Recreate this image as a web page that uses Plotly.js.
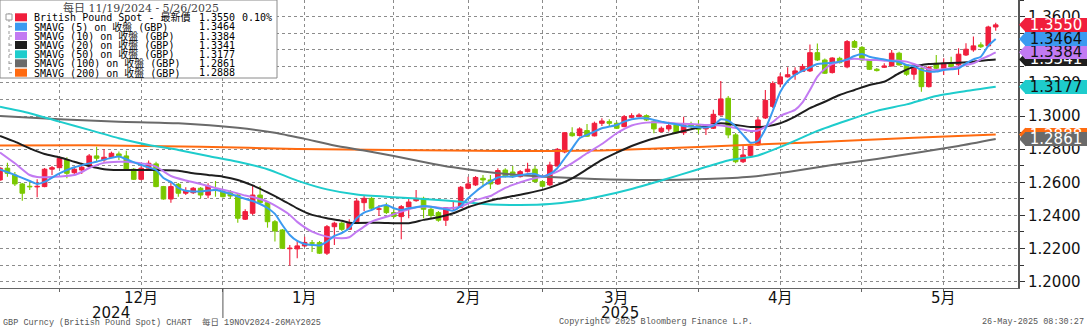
<!DOCTYPE html>
<html><head><meta charset="utf-8">
<script src="https://cdn.plot.ly/plotly-3.0.1.min.js"></script>
<style>html,body{margin:0;padding:0;background:#fff;overflow:hidden}#chart{width:1089px;height:328px}</style>
</head><body><div id="chart"></div>
<script>
// ---- data (GBP spot daily, 19 Nov 2024 - 26 May 2025, index = trading day) ----
const openP = [1.2614,1.2685,1.2644,1.2590,1.2576,1.2572,1.2574,1.2679,1.2688,1.2735,1.2658,1.2674,1.2698,1.2759,1.2735,1.2751,1.2771,1.2759,1.2679,1.2618,1.2685,1.2711,1.2574,1.2499,1.2588,1.2534,1.2537,1.2564,1.2523,1.2556,1.2543,1.2537,1.2523,1.2377,1.2413,1.2523,1.2477,1.2362,1.2312,1.2199,1.2198,1.2216,1.2235,1.2236,1.2172,1.2332,1.2353,1.2316,1.2362,1.2477,1.2503,1.2437,1.2457,1.2417,1.2393,1.2451,1.2489,1.2503,1.2437,1.2417,1.2371,1.2446,1.2449,1.2564,1.2584,1.2624,1.2614,1.2590,1.2674,1.2662,1.2634,1.2664,1.2679,1.2604,1.2584,1.2698,1.2783,1.2896,1.2882,1.2912,1.2880,1.2956,1.2966,1.2956,1.2936,1.2992,1.2996,1.3002,1.2966,1.2906,1.2922,1.2946,1.2899,1.2950,1.2946,1.2922,1.2926,1.3006,1.3107,1.2886,1.2724,1.2762,1.2825,1.2988,1.3058,1.3193,1.3236,1.3251,1.3269,1.3272,1.3382,1.3338,1.3262,1.3348,1.3296,1.3449,1.3414,1.3338,1.3282,1.3294,1.3302,1.3379,1.3308,1.3252,1.3288,1.3177,1.3318,1.3288,1.3318,1.3308,1.3368,1.3399,1.3429,1.3423,1.3537];
const highP = [1.2692,1.2718,1.2662,1.2596,1.2604,1.2618,1.2686,1.2698,1.2751,1.2751,1.2691,1.2718,1.2771,1.2815,1.2801,1.2785,1.2785,1.2791,1.2686,1.2704,1.2731,1.2724,1.2578,1.2598,1.2596,1.2570,1.2572,1.2572,1.2594,1.2608,1.2554,1.2554,1.2535,1.2437,1.2578,1.2578,1.2487,1.2373,1.2318,1.2222,1.2252,1.2272,1.2252,1.2246,1.2342,1.2362,1.2362,1.2377,1.2503,1.2523,1.2511,1.2463,1.2477,1.2443,1.2463,1.2503,1.2554,1.2513,1.2457,1.2427,1.2449,1.2483,1.2578,1.2634,1.2638,1.2644,1.2644,1.2685,1.2685,1.2698,1.2674,1.2718,1.2698,1.2611,1.2724,1.2807,1.2903,1.2932,1.2932,1.2952,1.2966,1.2986,1.2980,1.2966,1.3006,1.3017,1.3017,1.3010,1.2976,1.2936,1.2966,1.2956,1.2996,1.2966,1.2976,1.2946,1.3037,1.3211,1.3121,1.2898,1.2819,1.2822,1.2994,1.3157,1.3210,1.3258,1.3294,1.3294,1.3314,1.3432,1.3438,1.3347,1.3355,1.3358,1.3459,1.3459,1.3423,1.3344,1.3290,1.3318,1.3399,1.3387,1.3314,1.3314,1.3296,1.3302,1.3368,1.3348,1.3358,1.3409,1.3439,1.3479,1.3445,1.3545,1.3563];
const lowP = [1.2608,1.2634,1.2578,1.2489,1.2554,1.2510,1.2570,1.2644,1.2686,1.2624,1.2644,1.2650,1.2692,1.2724,1.2724,1.2747,1.2735,1.2675,1.2614,1.2612,1.2679,1.2570,1.2495,1.2477,1.2513,1.2523,1.2529,1.2503,1.2503,1.2513,1.2508,1.2499,1.2356,1.2373,1.2403,1.2469,1.2326,1.2242,1.2198,1.2097,1.2141,1.2210,1.2180,1.2167,1.2161,1.2222,1.2306,1.2312,1.2358,1.2427,1.2439,1.2397,1.2409,1.2385,1.2256,1.2383,1.2483,1.2383,1.2377,1.2362,1.2336,1.2427,1.2445,1.2558,1.2578,1.2570,1.2560,1.2584,1.2629,1.2626,1.2629,1.2659,1.2599,1.2572,1.2578,1.2695,1.2775,1.2875,1.2877,1.2874,1.2877,1.2940,1.2940,1.2922,1.2932,1.2986,1.2992,1.2970,1.2896,1.2901,1.2906,1.2894,1.2886,1.2928,1.2892,1.2886,1.2922,1.3003,1.2866,1.2715,1.2717,1.2759,1.2819,1.2982,1.3049,1.3174,1.3232,1.3218,1.3266,1.3266,1.3332,1.3254,1.3257,1.3317,1.3288,1.3411,1.3334,1.3278,1.3269,1.3290,1.3299,1.3305,1.3242,1.3218,1.3147,1.3172,1.3284,1.3248,1.3290,1.3248,1.3362,1.3388,1.3411,1.3417,1.3515];
const closeP = [1.2685,1.2654,1.2590,1.2534,1.2572,1.2576,1.2679,1.2688,1.2745,1.2654,1.2679,1.2691,1.2759,1.2745,1.2751,1.2775,1.2759,1.2679,1.2618,1.2685,1.2715,1.2574,1.2499,1.2574,1.2534,1.2548,1.2564,1.2523,1.2578,1.2552,1.2513,1.2517,1.2383,1.2423,1.2523,1.2477,1.2362,1.2306,1.2202,1.2203,1.2216,1.2237,1.2232,1.2172,1.2332,1.2353,1.2316,1.2356,1.2487,1.2503,1.2443,1.2440,1.2417,1.2394,1.2453,1.2481,1.2503,1.2437,1.2400,1.2371,1.2447,1.2448,1.2570,1.2590,1.2629,1.2614,1.2590,1.2671,1.2634,1.2634,1.2664,1.2679,1.2604,1.2576,1.2704,1.2799,1.2899,1.2881,1.2922,1.2878,1.2956,1.2970,1.2956,1.2926,1.2996,1.3002,1.3006,1.2976,1.2922,1.2926,1.2942,1.2899,1.2946,1.2936,1.2920,1.2936,1.3010,1.3103,1.2886,1.2724,1.2765,1.2819,1.2976,1.3094,1.3196,1.3236,1.3249,1.3272,1.3299,1.3382,1.3338,1.3258,1.3350,1.3322,1.3449,1.3415,1.3338,1.3282,1.3274,1.3302,1.3379,1.3308,1.3252,1.3308,1.3177,1.3294,1.3288,1.3318,1.3298,1.3373,1.3403,1.3423,1.3418,1.3537,1.3550];

const sma5X = [0,2,4,5,6,8,10,13,16,17,19,21,22,23,24,25,27,29,31,32,34,35,36,37,38,39,40,41,42,43,44,45,46,47,48,49,50,51,52,53,54,55,56,57,58,59,60,61,62,63,64,65,66,67,68,69,71,72,73,74,75,76,77,78,79,80,81,82,83,84,85,86,87,88,89,90,91,92,93,94,95,96,97,98,99,100,101,102,103,104,105,106,107,108,109,110,111,112,113,114,115,116,117,118,119,120,121,122,123,124,125,126,127,128,129,130,131,132,133,134];
const sma5Y = [1.2677,1.2644,1.2608,1.2590,1.2602,1.2654,1.2691,1.2724,1.2755,1.2739,1.2704,1.2674,1.2626,1.2602,1.2566,1.2549,1.2545,1.2554,1.2530,1.2514,1.2487,1.2469,1.2445,1.2409,1.2342,1.2282,1.2246,1.2228,1.2222,1.2219,1.2242,1.2276,1.2294,1.2322,1.2383,1.2417,1.2433,1.2453,1.2463,1.2443,1.2433,1.2443,1.2449,1.2457,1.2453,1.2443,1.2437,1.2429,1.2457,1.2504,1.2543,1.2578,1.2604,1.2629,1.2635,1.2634,1.2650,1.2650,1.2634,1.2650,1.2685,1.2745,1.2805,1.2866,1.2886,1.2906,1.2926,1.2936,1.2946,1.2966,1.2980,1.2986,1.2986,1.2976,1.2966,1.2956,1.2950,1.2940,1.2936,1.2932,1.2930,1.2940,1.2980,1.2972,1.2936,1.2886,1.2839,1.2849,1.2922,1.3031,1.3145,1.3211,1.3248,1.3272,1.3293,1.3314,1.3318,1.3322,1.3328,1.3342,1.3362,1.3374,1.3358,1.3348,1.3341,1.3332,1.3326,1.3308,1.3300,1.3278,1.3268,1.3268,1.3278,1.3282,1.3288,1.3318,1.3342,1.3358,1.3423,1.3464];

const sma10X = [0,2,4,5,6,8,10,11,12,14,16,17,18,20,21,23,25,27,29,31,33,34,36,38,39,40,42,44,46,47,48,49,50,52,54,56,58,60,62,64,66,67,68,69,71,73,75,77,79,81,83,85,87,89,91,93,95,97,99,101,102,103,104,105,106,107,108,109,110,111,112,113,114,115,116,117,118,119,120,121,122,123,124,125,126,127,128,129,130,131,132,133,134];
const sma10Y = [1.2780,1.2715,1.2644,1.2632,1.2630,1.2635,1.2644,1.2662,1.2686,1.2717,1.2724,1.2724,1.2720,1.2708,1.2695,1.2638,1.2611,1.2590,1.2566,1.2545,1.2520,1.2511,1.2483,1.2433,1.2403,1.2361,1.2302,1.2272,1.2262,1.2268,1.2302,1.2332,1.2362,1.2392,1.2423,1.2449,1.2453,1.2443,1.2453,1.2493,1.2517,1.2542,1.2566,1.2584,1.2614,1.2634,1.2664,1.2715,1.2775,1.2831,1.2896,1.2943,1.2960,1.2961,1.2955,1.2952,1.2946,1.2943,1.2928,1.2910,1.2913,1.2934,1.2964,1.3000,1.3019,1.3037,1.3082,1.3157,1.3238,1.3284,1.3314,1.3328,1.3340,1.3346,1.3342,1.3338,1.3338,1.3334,1.3334,1.3334,1.3328,1.3314,1.3298,1.3282,1.3278,1.3282,1.3288,1.3298,1.3308,1.3318,1.3342,1.3362,1.3384];

const sma20X = [0,2,4,6,8,10,12,14,16,20,24,26,28,30,32,34,36,38,40,42,44,46,47,51,55,57,59,61,63,65,67,69,71,73,75,77,79,81,83,85,87,89,91,93,95,97,99,101,103,105,107,109,111,113,115,117,119,121,123,125,127,129,131,133,134];
const sma20Y = [1.2880,1.2845,1.2805,1.2771,1.2751,1.2724,1.2698,1.2679,1.2674,1.2674,1.2670,1.2654,1.2644,1.2634,1.2614,1.2581,1.2539,1.2493,1.2443,1.2403,1.2383,1.2368,1.2356,1.2356,1.2353,1.2373,1.2389,1.2413,1.2449,1.2477,1.2500,1.2517,1.2534,1.2554,1.2584,1.2624,1.2679,1.2735,1.2779,1.2819,1.2851,1.2876,1.2899,1.2920,1.2940,1.2956,1.2946,1.2934,1.2936,1.2956,1.2996,1.3047,1.3086,1.3127,1.3157,1.3187,1.3207,1.3258,1.3298,1.3314,1.3318,1.3322,1.3328,1.3338,1.3341];

const sma50X = [0,4,8,12,16,20,24,28,32,36,40,44,48,53,58,62,66,70,74,78,81,85,89,94,98,102,106,110,114,118,122,126,130,134];
const sma50Y = [1.3056,1.3017,1.2966,1.2916,1.2866,1.2825,1.2795,1.2759,1.2724,1.2679,1.2610,1.2557,1.2526,1.2510,1.2496,1.2483,1.2466,1.2463,1.2469,1.2490,1.2517,1.2560,1.2611,1.2679,1.2732,1.2762,1.2831,1.2910,1.2973,1.3031,1.3070,1.3121,1.3151,1.3177];

const sma100X = [0,8,16,24,32,37,41,45,49,53,57,61,65,69,74,80,88,95,101,106,112,118,124,129,134];
const sma100Y = [1.3000,1.2980,1.2966,1.2956,1.2929,1.2899,1.2862,1.2822,1.2792,1.2759,1.2723,1.2690,1.2665,1.2647,1.2632,1.2620,1.2614,1.2620,1.2634,1.2662,1.2704,1.2741,1.2783,1.2819,1.2861];

const sma200X = [0,12,27,40,53,68,81,94,108,123,134];
const sma200Y = [1.2822,1.2823,1.2815,1.2801,1.2795,1.2789,1.2792,1.2813,1.2839,1.2868,1.2888];

const gridIdx   = [8,19,30,41,53,63,73,83,94,105,116,127];
const gridText  = ['','12月','','1月','','2月','','3月','','4月','','5月'];
const yearText  = ['2024','2025'];
const yearIdx   = [15,83.5];
const yearBreak = 30;

const legendTitle = '每日 11/19/2024 - 5/26/2025';
const seriesNames = ['British Pound Spot - 最新價','SMAVG (5) on 收盤 (GBP)','SMAVG (10) on 收盤 (GBP)','SMAVG (20) on 收盤 (GBP)','SMAVG (50) on 收盤 (GBP)','SMAVG (100) on 收盤 (GBP)','SMAVG (200) on 收盤 (GBP)'];
const footLeft  = 'GBP Curncy (British Pound Spot) CHART  每日 19NOV2024-26MAY2025';
const footMid   = 'Copyright© 2025 Bloomberg Finance L.P.';
const footRight = '26-May-2025 08:30:27';

// ---- styles ----
const RED='#f01e3c', GREEN='#7ac800', BLUE='#3b9af0', PURPLE='#c27af2', BLACK='#1e1e1e', CYAN='#1ecccc', GRAY='#6a6a6a', ORANGE='#ff6a10';
const W=1089,H=328,ML=0,MR=71,MT=0,MB=40;
const PW=W-ML-MR, PH=H-MT-MB;
const xRange=[0,137], yRange=[1.1962,1.3700];
const xp = px => px/PW, yp = py => 1-py/PH;

const idx = closeP.map((_,i)=>i);
const candleCol = closeP.map((c,i)=> c>=openP[i] ? RED : GREEN);
const traces = [
  {type:'bar', x:idx, y:highP.map((h,i)=>h-lowP[i]), base:lowP, width:0.15,
   marker:{color:candleCol,line:{width:0}}, hoverinfo:'skip', showlegend:false},
  {type:'bar', x:idx, y:closeP.map((c,i)=>Math.abs(c-openP[i])), base:closeP.map((c,i)=>Math.min(c,openP[i])), width:0.62,
   marker:{color:candleCol,line:{width:1,color:candleCol}}, hoverinfo:'skip', showlegend:false}
];
const lineDefs = [[sma200X,sma200Y,ORANGE],[sma100X,sma100Y,GRAY],[sma50X,sma50Y,CYAN],[sma20X,sma20Y,BLACK],[sma10X,sma10Y,PURPLE],[sma5X,sma5Y,BLUE]];
lineDefs.forEach(([x,y,c])=>traces.push({type:'scatter',mode:'lines',x:x,y:y,line:{color:c,width:2,shape:'spline',smoothing:0.6},hoverinfo:'skip',showlegend:false}));

const shapes=[], annotations=[];
// month labels (under mid-month gridlines)
const axisFont={family:'DejaVu Sans, Noto Sans CJK SC',size:15,color:'#111'};
gridIdx.forEach((g,i)=>{ if(gridText[i]) annotations.push({xref:'x',yref:'paper',x:g,y:yp(297.5),text:gridText[i],showarrow:false,xanchor:'center',yanchor:'middle',font:axisFont}); });
// year separator + labels
shapes.push({type:'line',xref:'x',yref:'paper',x0:yearBreak,x1:yearBreak,y0:0,y1:-30/PH,line:{color:'#555',width:1}});
yearText.forEach((t,i)=>annotations.push({xref:'x',yref:'paper',x:yearIdx[i],y:yp(312.5),text:t,showarrow:false,xanchor:'center',yanchor:'middle',font:axisFont}));

// legend box
shapes.push({type:'rect',xref:'paper',yref:'paper',x0:0,x1:xp(277),y0:yp(78),y1:1,fillcolor:'#fff',line:{color:'#8a8a8a',width:1},layer:'above'});
annotations.push({xref:'paper',yref:'paper',x:xp(141),y:yp(8.5),text:legendTitle,showarrow:false,xanchor:'center',yanchor:'middle',font:{family:'DejaVu Serif, Noto Sans CJK TC',size:11,color:'#444'}});
const rowY=[17.3,26.7,36,45,54.3,63.3,72.7];
const swatch=[RED,BLUE,PURPLE,BLACK,CYAN,GRAY,ORANGE];
const lastVals=[closeP[closeP.length-1],sma5Y[sma5Y.length-1],sma10Y[sma10Y.length-1],sma20Y[sma20Y.length-1],sma50Y[sma50Y.length-1],sma100Y[sma100Y.length-1],sma200Y[sma200Y.length-1]];
const pct=((closeP[closeP.length-1]/closeP[closeP.length-2]-1)*100).toFixed(2)+'%';
shapes.push({type:'line',xref:'paper',yref:'paper',x0:xp(9),x1:xp(9),y0:yp(13),y1:yp(72.7),line:{color:'#999',width:1,dash:'dot'},layer:'above'});
shapes.push({type:'rect',xref:'paper',yref:'paper',x0:xp(6),x1:xp(12),y0:yp(14),y1:yp(20),fillcolor:'#fff',line:{color:'#999',width:1},layer:'above'});
rowY.forEach((ry,i)=>{
  if(i>0) shapes.push({type:'line',xref:'paper',yref:'paper',x0:xp(9),x1:xp(14),y0:yp(ry),y1:yp(ry),line:{color:'#999',width:1,dash:'dot'},layer:'above'});
  shapes.push({type:'rect',xref:'paper',yref:'paper',x0:xp(15),x1:xp(27),y0:yp(ry+4),y1:yp(ry-4),fillcolor:swatch[i],line:{width:0},layer:'above'});
  const f={family:'DejaVu Sans Mono, Noto Sans CJK TC',size:10,color:'#000'};
  annotations.push({xref:'paper',yref:'paper',x:xp(32),y:yp(ry),text:seriesNames[i],showarrow:false,xanchor:'left',yanchor:'middle',font:f});
  annotations.push({xref:'paper',yref:'paper',x:xp(197),y:yp(ry),text:lastVals[i].toFixed(4),showarrow:false,xanchor:'left',yanchor:'middle',font:f});
  if(i===0) annotations.push({xref:'paper',yref:'paper',x:xp(240),y:yp(ry),text:pct,showarrow:false,xanchor:'left',yanchor:'middle',font:f});
});

// right-side value tags
const halfH = 7*(yRange[1]-yRange[0])/PH;
const tags=[[lastVals[6],ORANGE,'#fff'],[lastVals[5],GRAY,'#fff'],[lastVals[4],CYAN,'#111'],[lastVals[3],BLACK,'#fff'],[lastVals[2],PURPLE,'#111'],[lastVals[1],BLUE,'#111'],[lastVals[0],RED,'#fff']];
tags.forEach(([v,c,tc])=>{
  shapes.push({type:'path',xref:'paper',yref:'y',path:`M ${xp(1019)},${v} L ${xp(1025.5)},${v+halfH} L ${xp(1025.5)},${v-halfH} Z`,fillcolor:c,line:{width:0},layer:'above'});
  annotations.push({xref:'paper',yref:'y',x:xp(1025),y:v,text:v.toFixed(4),showarrow:false,xanchor:'left',yanchor:'middle',width:62,height:14,bgcolor:c,borderpad:0,borderwidth:0,font:{family:'DejaVu Sans',size:15,color:tc}});
});

// footer
const ff={family:'Liberation Mono, Noto Sans CJK TC',size:8.5,color:'#555'};
annotations.push({xref:'paper',yref:'paper',x:xp(1),y:yp(322),text:footLeft,showarrow:false,xanchor:'left',yanchor:'middle',font:ff});
annotations.push({xref:'paper',yref:'paper',x:xp(557),y:yp(322),text:footMid,showarrow:false,xanchor:'left',yanchor:'middle',font:ff});
annotations.push({xref:'paper',yref:'paper',x:xp(1086),y:yp(322),text:footRight,showarrow:false,xanchor:'right',yanchor:'middle',font:ff});

const layout={
  width:W,height:H,margin:{l:ML,r:MR,t:MT,b:MB,pad:0},
  paper_bgcolor:'#fff',plot_bgcolor:'#fff',showlegend:false,barmode:'overlay',
  xaxis:{range:xRange,tickmode:'array',tickvals:gridIdx,showticklabels:false,
    showgrid:true,gridcolor:'#8c8c8c',griddash:'dot',gridwidth:1,zeroline:false,
    showline:true,linecolor:'#666',linewidth:1,ticks:'outside',ticklen:3,tickcolor:'#666',
    automargin:false,fixedrange:true},
  yaxis:{side:'right',range:yRange,tick0:1.2,dtick:0.02,tickformat:'.4f',
    showgrid:true,gridcolor:'#8c8c8c',griddash:'dot',gridwidth:1,zeroline:false,
    showline:true,linecolor:'#555',linewidth:2,ticks:'outside',ticklen:5,tickcolor:'#333',
    minor:{dtick:0.01,tick0:1.2,showgrid:true,gridcolor:'#8c8c8c',griddash:'dot',ticks:'outside',ticklen:4,tickcolor:'#333'},
    tickfont:{family:'DejaVu Sans',size:15,color:'#111'},automargin:false,fixedrange:true},
  shapes:shapes,annotations:annotations
};
Plotly.newPlot('chart',traces,layout,{staticPlot:true,displayModeBar:false});
</script></body></html>
